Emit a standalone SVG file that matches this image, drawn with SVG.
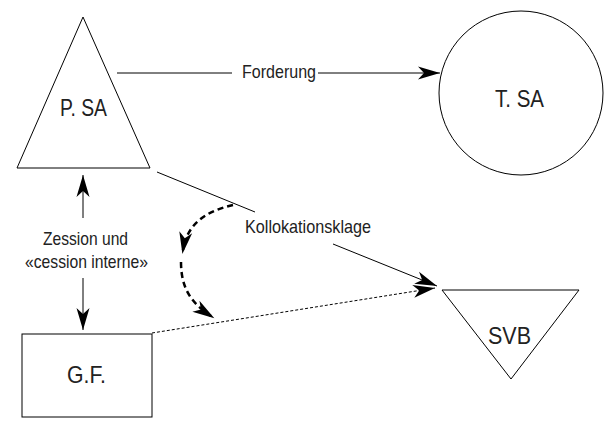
<svg xmlns="http://www.w3.org/2000/svg" width="605" height="426" viewBox="0 0 605 426">
<style>
.shape{fill:#fff;stroke:#000;stroke-width:1}
.ln{fill:none;stroke:#000;stroke-width:1}
.dot{fill:none;stroke:#000;stroke-width:1;stroke-dasharray:3 2}
.dash{fill:none;stroke:#000;stroke-width:2.5;stroke-dasharray:6 4}
text{font-family:"Liberation Sans",Arial,sans-serif;fill:#222;text-anchor:start}
.big{font-size:24.5px}
.sm{font-size:18.5px}
</style>
<defs>
<marker id="arr" markerUnits="userSpaceOnUse" markerWidth="24" markerHeight="14" viewBox="0 0 24 14" refX="22" refY="7" orient="auto">
<path d="M0,0.5 L22,7 L0,13.5 L6,7 Z" fill="#000"/>
</marker>
<marker id="arrT" markerUnits="userSpaceOnUse" markerWidth="24" markerHeight="14" viewBox="0 0 24 14" refX="18" refY="7" orient="auto">
<path d="M0,0.5 L22,7 L0,13.5 L6,7 Z" fill="#000"/>
</marker>
</defs>
<g id="PSA">
<polygon class="shape" points="83,17 150,168 17,168"/>
<text class="big" x="60" y="116" textLength="47" lengthAdjust="spacingAndGlyphs">P. SA</text>
</g>
<g id="TSA">
<circle class="shape" cx="521" cy="93" r="82"/>
<text class="big" x="495" y="107" textLength="49" lengthAdjust="spacingAndGlyphs">T. SA</text>
</g>
<g id="SVB">
<polygon class="shape" points="442,290 579,290 511,379"/>
<text class="big" x="488" y="344" textLength="43" lengthAdjust="spacingAndGlyphs">SVB</text>
</g>
<g id="GF">
<rect class="shape" x="22" y="334" width="130" height="83"/>
<text class="big" x="67" y="383" textLength="39" lengthAdjust="spacingAndGlyphs">G.F.</text>
</g>
<g id="connectors">
<line class="ln" x1="117" y1="73" x2="232" y2="73"/>
<line class="ln" x1="318" y1="73" x2="440" y2="73" marker-end="url(#arr)"/>
<line class="ln" x1="83" y1="218" x2="83" y2="175" marker-end="url(#arr)"/>
<line class="ln" x1="83" y1="278" x2="83" y2="330" marker-end="url(#arr)"/>
<line class="ln" x1="157" y1="172" x2="255" y2="212"/>
<line class="ln" x1="333" y1="244" x2="437" y2="286" marker-end="url(#arr)"/>
<line class="dot" x1="152" y1="333" x2="435" y2="288" marker-end="url(#arr)"/>
<path class="dash" d="M233,205 C206,211 187,224 183,250" marker-end="url(#arrT)"/>
<path class="dash" d="M181,262 C181,288 191,303 211,316" marker-end="url(#arrT)"/>
</g>
<g id="labels">
<text class="sm" x="242" y="78" textLength="74" lengthAdjust="spacingAndGlyphs">Forderung</text>
<text class="sm" x="245" y="233" textLength="126" lengthAdjust="spacingAndGlyphs">Kollokationsklage</text>
<text class="sm" x="43" y="245" textLength="85" lengthAdjust="spacingAndGlyphs">Zession und</text>
<text class="sm" x="25" y="268" textLength="123" lengthAdjust="spacingAndGlyphs">«cession interne»</text>
</g>
</svg>
